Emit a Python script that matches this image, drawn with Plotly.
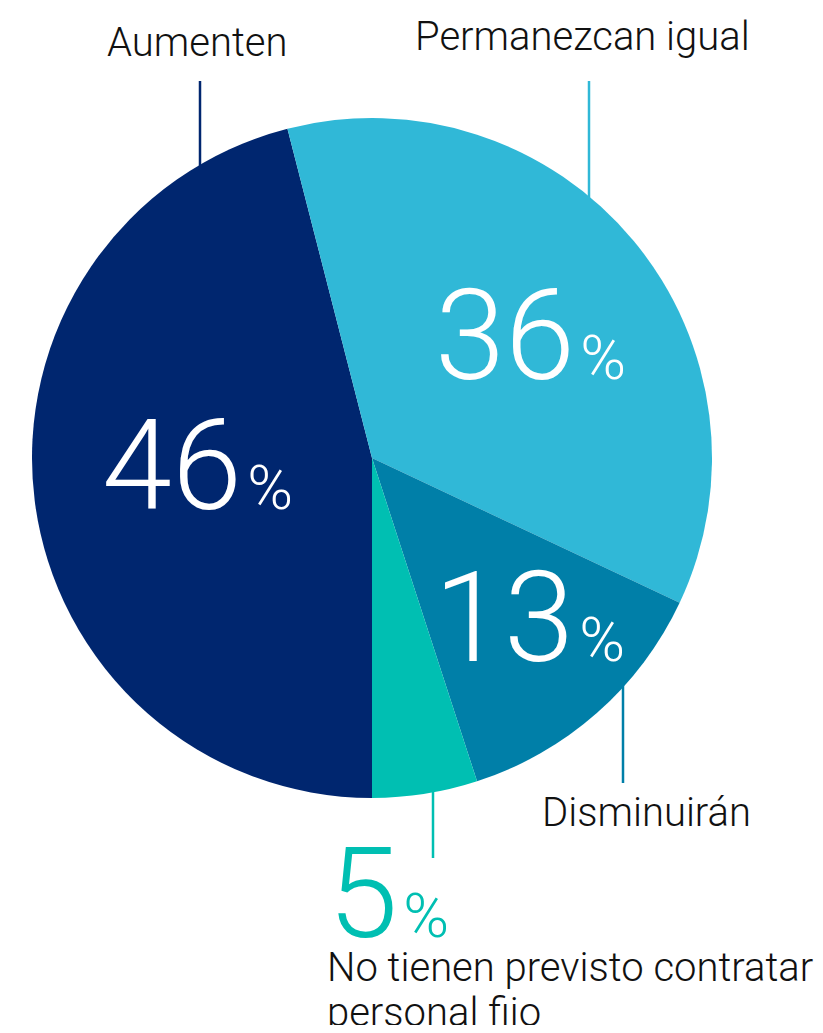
import plotly.graph_objects as go

# page body has an 8px margin, so the figure is drawn inside it
W, H = 823, 1033
M = 8
FW, FH = W - 2 * M, H - 2 * M

labels = ["Aumenten", "Permanezcan igual", "Disminuirán", "No tienen previsto contratar personal fijo"]
values = [46, 36, 13, 5]
colors = ["#00266f", "#30b8d7", "#007fa8", "#00bfb2"]


def px(x):
    return (x - M) / FW


def py(y):
    return 1 - (y - M) / FH


fig = go.Figure()

fig.add_trace(
    go.Pie(
        labels=labels,
        values=values,
        sort=False,
        direction="clockwise",
        rotation=180,
        marker=dict(colors=colors, line=dict(width=0)),
        textinfo="none",
        hoverinfo="label+percent",
        showlegend=False,
        domain=dict(x=[px(32), px(712)], y=[py(798), py(118)]),
    )
)

FONT = "Roboto"
pct = "<span style='font-size:22px'> </span><span style='font-size:62px'>%</span>"

# big numbers: (text, x, baseline y, colour)
big = [
    (f"{values[0]}{pct}", 100, 514, "white"),
    (f"{values[1]}{pct}", 433, 384, "white"),
    (f"{values[2]}{pct}", 432, 666, "white"),
    (f"{values[3]}{pct}", 326, 942, colors[3]),
]
for text, x, y, c in big:
    fig.add_annotation(
        x=px(x), y=py(y + 28), xref="paper", yref="paper",
        text=text, showarrow=False, xanchor="left", yanchor="bottom",
        font=dict(family=FONT, size=126, color=c, weight=300),
    )

# category labels: (text, x, baseline y, anchor)
cats = [
    (labels[0], 197, 58, "center"),
    (labels[1], 582, 52, "center"),
    (labels[2], 646, 828, "center"),
    ("No tienen previsto contratar", 325, 983, "left"),
    ("personal fijo", 325, 1028, "left"),
]
for text, x, y, a in cats:
    fig.add_annotation(
        x=px(x), y=py(y + 10), xref="paper", yref="paper",
        text=text, showarrow=False, xanchor=a, yanchor="bottom", align="left",
        font=dict(family=FONT, size=40, color="#111111", weight=300),
    )

# leader lines: (x, y0, y1, colour)
leaders = [
    (200, 81, 166, colors[0]),
    (589, 81, 198, colors[1]),
    (623, 683, 783, colors[2]),
    (433, 792, 858, colors[3]),
]
for x, y0, y1, c in leaders:
    fig.add_shape(
        type="line", xref="paper", yref="paper",
        x0=px(x), x1=px(x), y0=py(y0), y1=py(y1),
        line=dict(color=c, width=2.5),
    )

fig.update_layout(
    width=FW,
    height=FH,
    margin=dict(l=0, r=0, t=0, b=0),
    paper_bgcolor="white",
    plot_bgcolor="white",
)

fig.write_html("out.html")
